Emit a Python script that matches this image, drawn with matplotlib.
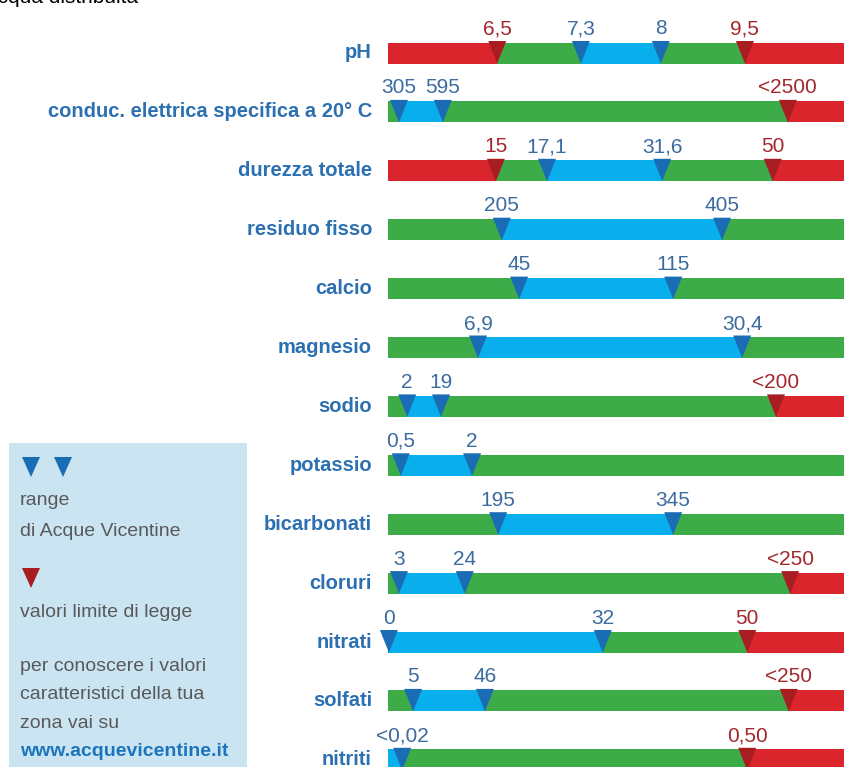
import matplotlib
matplotlib.use("Agg")
import matplotlib.pyplot as plt
from matplotlib.patches import Polygon, Rectangle
from matplotlib import font_manager

W, H = 845, 767
DPI = 100

# ---------------- data ----------------
rows = ["pH", "conduc. elettrica specifica a 20° C", "durezza totale", "residuo fisso",
        "calcio", "magnesio", "sodio", "potassio", "bicarbonati", "cloruri",
        "nitrati", "solfati", "nitriti"]

# marker positions along each bar (0 = bar start, 100 = right edge of picture)
positions = [
    [23.9, 42.2, 59.7, 78.1],
    [2.4, 12.0, 87.5],
    [23.6, 34.8, 60.0, 84.2],
    [24.9, 73.1],
    [28.7, 62.4],
    [19.7, 77.5],
    [4.2, 11.6, 84.9],
    [2.8, 18.4],
    [24.1, 62.4],
    [2.4, 16.8, 88.0],
    [0.2, 47.0, 78.6],
    [5.5, 21.2, 87.7],
    [3.1, 78.6],
]
marker_labels = [
    ["6,5", "7,3", "8", "9,5"],
    ["305", "595", "<2500"],
    ["15", "17,1", "31,6", "50"],
    ["205", "405"],
    ["45", "115"],
    ["6,9", "30,4"],
    ["2", "19", "<200"],
    ["0,5", "2"],
    ["195", "345"],
    ["3", "24", "<250"],
    ["0", "32", "50"],
    ["5", "46", "<250"],
    ["<0,02", "0,50"],
]
# b = Acque Vicentine range marker, r = legal limit marker
marker_kinds = [
    "rbbr", "bbr", "rbbr", "bb", "bb", "bb", "bbr", "bb", "bb", "bbr", "bbr", "bbr", "br",
]
# segment colours between markers: R red, G green, B light blue
segment_colors = [
    "RGBGR", "GBGR", "RGBGR", "GBG", "GBG", "GBG", "GBGR", "GBG", "GBG", "GBGR",
    "BBGR", "GBGR", "BGR",
]

legend_lines = ["range", "di Acque Vicentine", "valori limite di legge",
                "per conoscere i valori", "caratteristici della tua", "zona vai su"]
legend_link = "www.acquevicentine.it"
title_text = "acqua distribuita"

# ---------------- style ----------------
SEG = {"R": "#da252c", "G": "#3dab47", "B": "#09afec"}
MARK = {"b": "#1a6db5", "r": "#a81d22"}
VALCOL = {"b": "#3b6b9f", "r": "#a3282d"}
ROWCOL = "#2c70b2"
GREY = "#58595b"

names = {f.name for f in font_manager.fontManager.ttflist}
SANS = "Liberation Sans" if "Liberation Sans" in names else "DejaVu Sans"

fig = plt.figure(figsize=(W / DPI, H / DPI), dpi=DPI)
fig.patch.set_facecolor("white")

# main axes: x 0..100 = pixel 388..845, rows every 58.9 px starting at 53 px
x0px, row0px, rowpx = 388, 53, 58.9
ax = fig.add_axes([x0px / W, 0, (W - x0px) / W, 1])
ax.set_xlim(0, 100)
ax.set_ylim((H - row0px) / rowpx, -row0px / rowpx)
ax.axis("off")

ux = 100 / (W - x0px)      # data units per pixel along x
uy = 1 / rowpx             # data units per pixel along y
bar_h = 21 * uy
tri_w = 18 * ux

for i, name in enumerate(rows):
    bounds = [0] + positions[i] + [101]
    for j, c in enumerate(segment_colors[i]):
        ax.barh(i, bounds[j + 1] - bounds[j], left=bounds[j], height=bar_h,
                color=SEG[c], linewidth=0)
    for p, lab, k in zip(positions[i], marker_labels[i], marker_kinds[i]):
        top = i - bar_h / 2 - 1.5 * uy
        tip = i + bar_h / 2
        ax.add_patch(Polygon([(p - tri_w / 2, top), (p + tri_w / 2, top), (p, tip)],
                             closed=True, facecolor=MARK[k], edgecolor="none",
                             clip_on=False))
        ax.text(p, i - bar_h / 2 - 8 * uy, lab, ha="center", va="baseline",
                color=VALCOL[k], fontsize=15, family=SANS, clip_on=False)
    ax.text(-16 * ux, i, name, ha="right", va="center", color=ROWCOL,
            fontsize=14.5, fontweight="bold", family=SANS, clip_on=False)

# ---------------- legend box ----------------
def fx(px):
    return px / W

def fy(py):
    return 1 - py / H

fig.patches.append(Rectangle((fx(9), 0), fx(247) - fx(9), fy(443), transform=fig.transFigure,
                             facecolor="#cae5f1", edgecolor="none", zorder=0))

def ftri(cx, cy, color):
    w, h = 18, 20
    fig.patches.append(Polygon([(fx(cx - w / 2), fy(cy - h / 2)), (fx(cx + w / 2), fy(cy - h / 2)),
                                (fx(cx), fy(cy + h / 2))], closed=True, transform=fig.transFigure,
                               facecolor=color, edgecolor="none", zorder=1))

ftri(31, 467, MARK["b"])
ftri(63, 467, MARK["b"])
ftri(31, 578, MARK["r"])

baselines = [505, 536, 617, 671, 699, 728]
for txt, b in zip(legend_lines, baselines):
    fig.text(fx(20), fy(b), txt, ha="left", va="baseline", color=GREY,
             fontsize=14, family=SANS)
fig.text(fx(20), fy(756), legend_link, ha="left", va="baseline", color="#1c75bc",
         fontsize=14, fontweight="bold", family=SANS)

# clipped heading at the very top
fig.text(fx(-14), fy(3), title_text, ha="left", va="baseline", color="black",
         fontsize=15, family=SANS)

fig.savefig("out.png", dpi=DPI, facecolor="white")
